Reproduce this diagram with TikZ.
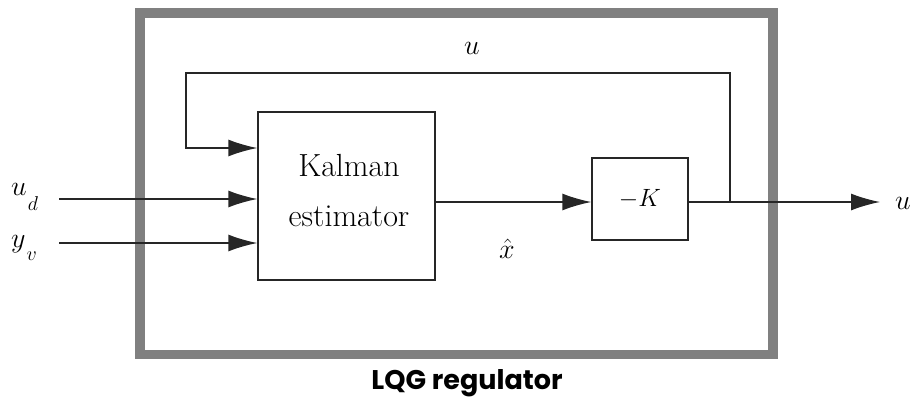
\RequirePackage{fix-cm}
\documentclass[tikz,border=0pt]{standalone}
\usepackage{fontspec}
\newfontfamily\lqgfont{Poppins}
\usetikzlibrary{arrows.meta}
\newcommand\lowsub[2]{\lower#1\hbox{\fontsize{20}{22}\selectfont$#2$}}
\begin{document}
\begin{tikzpicture}[x=1pt,y=-1pt,
  wire/.style={line width=1.4pt, draw=black!85},
  arr/.style={wire, -{Latex[length=29pt,width=17pt]}},
  blk/.style={draw=black!85, line width=1.4pt, inner sep=0pt},
  lbl/.style={font=\fontsize{28}{30}\selectfont, inner sep=0pt},
  frame/.style={draw={rgb,255:red,128;green,128;blue,128}, line width=9.5pt, inner sep=0pt}
]
\useasboundingbox (0,0) rectangle (921,397);
% outer regulator frame
\node[frame, minimum width=633pt, minimum height=341.5pt] (reg) at (456.5,183.75) {};
\node[font=\lqgfont\bfseries\fontsize{27}{30}\selectfont, anchor=base, inner sep=0pt] (reglbl) at (467,389) {LQG regulator};
% blocks
\node[blk, minimum width=177pt, minimum height=168pt] (kal) at (346.5,196) {};
\node[font=\fontsize{32}{50}\selectfont, align=center, inner sep=0pt] (kaltxt) at (349,191) {Kalman\\estimator};
\node[blk, minimum width=96pt, minimum height=82pt, font=\fontsize{25}{27}\selectfont] (K) at (640,199) {$-K$};
% coordinates
\coordinate (ud) at (59,199);
\coordinate (yv) at (59,243);
\coordinate (br) at (730,202);
\coordinate (fbR) at (730,73);
\coordinate (fbL) at (186,73);
\coordinate (fbB) at (186,148);
\coordinate (out) at (880,202);
% labels
\node[lbl, anchor=base west] (udl) at (11,195) {$u$\kern1pt\lowsub{15pt}{d}};
\node[lbl, anchor=base west] (yvl) at (11,247) {$y$\kern1pt\lowsub{13pt}{v}};
\node[lbl] (ul) at (472,48) {$u$};
\node[lbl] (xl) at (507,249) {$\hat{x}$};
\node[lbl] (uo) at (903,203) {$u$};
% connectors
\draw[arr] (ud) -- (ud -| kal.west);
\draw[arr] (yv) -- (yv -| kal.west);
\draw[arr] (kal.east |- br) -- (K.west |- br);
\draw[wire] (K.east |- br) -- (br);
\draw[arr] (br) -- (out);
\draw[arr] (br) -- (fbR) -- (fbL) -- (fbB) -- (fbB -| kal.west);
\end{tikzpicture}
\end{document}
